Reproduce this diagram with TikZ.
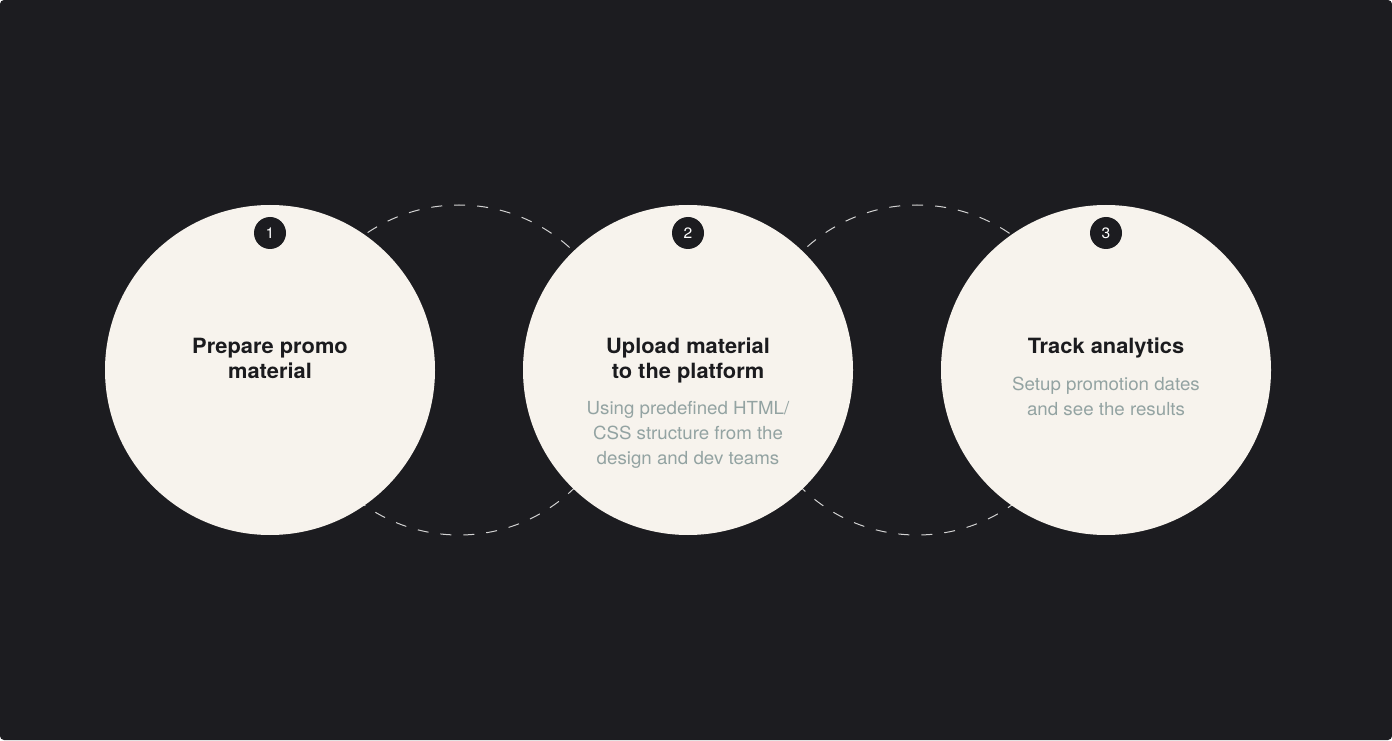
\documentclass[tikz,border=0pt]{standalone}
\usepackage{fontspec}
\setmainfont{TeX Gyre Heros}[FakeStretch=1.04]
\usetikzlibrary{positioning}
\definecolor{bg}{HTML}{1C1C20}
\definecolor{cream}{HTML}{F7F3ED}
\definecolor{ink}{HTML}{1B1B1E}
\definecolor{sage}{HTML}{93A3A2}
\definecolor{dashgray}{HTML}{D2D2D2}
\tikzstyle{stage} = [circle, fill=cream, minimum size=330pt, inner sep=0pt]
\tikzstyle{ring} = [circle, draw=dashgray, line width=1pt, dash pattern=on 11pt off 12pt, minimum size=330pt, inner sep=0pt]
\tikzstyle{badge} = [circle, fill=bg, minimum size=32pt, inner sep=0pt, text=white, font=\fontsize{15}{15}\selectfont]
\tikzstyle{title} = [anchor=north, align=center, inner sep=0pt, text=ink, font=\fontsize{21}{25}\selectfont\bfseries]
\tikzstyle{note} = [anchor=north, align=center, inner sep=0pt, text=sage, font=\fontsize{18}{25}\selectfont]

\begin{document}
\begin{tikzpicture}[x=1pt, y=1pt]
  \useasboundingbox (0,0) rectangle (1392,740);
  \fill[bg, rounded corners=4pt] (0,0) rectangle (1392,740);

  % dashed links behind the stages
  \node (ring_a) [ring] at (459, 370) {};
  \node (ring_b) [ring] at (917, 370) {};

  \node (s1) [stage] at (270, 370) {};
  \node (s2) [stage] at (688, 370) {};
  \node (s3) [stage] at (1106, 370) {};

  \node (b1) [badge] at (270, 507) {1};
  \node (b2) [badge] at (688, 507) {2};
  \node (b3) [badge] at (1106, 507) {3};

  \node (t1) [title] at (270, 402.5) {Prepare promo\\material};
  \node (t2) [title] at (688, 402.5) {Upload material\\to the platform};
  \node (t3) [title] at (1106, 402.5) {Track analytics};

  \node (n2) [note] at (688, 338.5) {Using predefined HTML/\\CSS structure from the\\design and dev teams};
  \node (n3) [note] at (1106, 363.3) {Setup promotion dates\\and see the results};
\end{tikzpicture}
\end{document}
